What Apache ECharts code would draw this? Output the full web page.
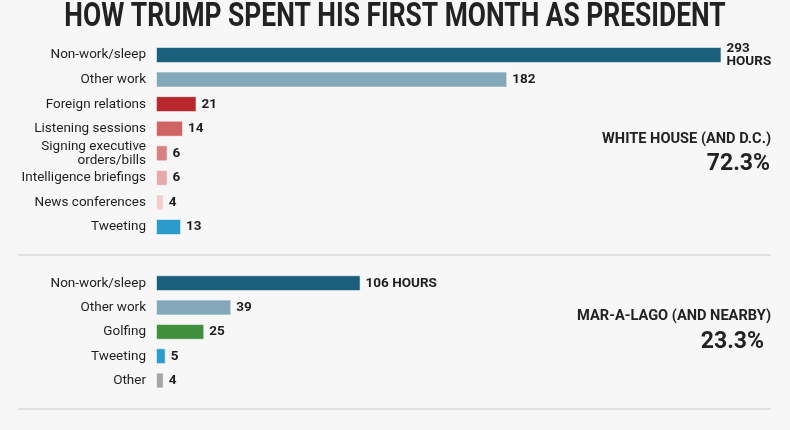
<!DOCTYPE html>
<html>
<head>
<meta charset="utf-8">
<script src="https://cdn.jsdelivr.net/npm/echarts@6/dist/echarts.min.js"></script>
<style>
html,body{margin:0;padding:0;background:#f7f7f7;}
#chart{width:790px;height:430px;}
</style>
</head>
<body>
<div id="chart"></div>
<script>
const titleText = 'HOW TRUMP SPENT HIS FIRST MONTH AS PRESIDENT';

const whCategories = ['Non-work/sleep','Other work','Foreign relations','Listening sessions','Signing executive\norders/bills','Intelligence briefings','News conferences','Tweeting'];
const whValues = [293, 182, 21, 14, 6, 6, 4, 13];
const whColors = ['#1a5f7b','#82a8b9','#b9282c','#d06364','#d98081','#e6aaaa','#f2cdce','#2a9bca'];
const whLabel = 'WHITE HOUSE (AND D.C.)';
const whShare = '72.3%';

const mlCategories = ['Non-work/sleep','Other work','Golfing','Tweeting','Other'];
const mlValues = [106, 39, 25, 5, 4];
const mlColors = ['#1a5f7b','#82a8b9','#3f8f3c','#2a9bca','#a6a6a6'];
const mlLabel = 'MAR-A-LAGO (AND NEARBY)';
const mlShare = '23.3%';

const FONT = 'Roboto, "Noto Sans", sans-serif';

function barData(vals, cols) {
  return vals.map((v, i) => ({ value: v, itemStyle: { color: cols[i] } }));
}

const chart = echarts.init(document.getElementById('chart'));

const catAxis = (gi, cats) => ({
  type: 'category', gridIndex: gi, data: cats, inverse: true,
  axisLine: { show: false }, axisTick: { show: false },
  axisLabel: { color: '#1e1e1e', fontFamily: FONT, fontSize: 13.5, margin: 10, lineHeight: 14 }
});
const valAxis = (gi) => ({
  type: 'value', gridIndex: gi, min: 0, max: 300, show: false
});

const barSeries = (gi, vals, cols, firstLabel) => ({
  type: 'bar', xAxisIndex: gi, yAxisIndex: gi,
  data: barData(vals, cols),
  barWidth: '65%',
  itemStyle: { borderColor: 'rgba(255,255,255,0.55)', borderWidth: 1 },
  label: {
    show: true, position: 'right', distance: 5,
    color: '#1e1e1e', fontFamily: FONT, fontSize: 13.5, fontWeight: 'bold', lineHeight: 13,
    formatter: p => p.dataIndex === 0 ? firstLabel.replace('{v}', p.value) : String(p.value)
  },
  animation: false
});

chart.setOption({
  backgroundColor: '#f7f7f7',
  animation: false,
  grid: [
    { left: 156, width: 579, top: 42.7, height: 196.6 },
    { left: 156, width: 579, top: 271, height: 121.7 }
  ],
  xAxis: [valAxis(0), valAxis(1)],
  yAxis: [catAxis(0, whCategories), catAxis(1, mlCategories)],
  series: [
    barSeries(0, whValues, whColors, '{v}\nHOURS'),
    barSeries(1, mlValues, mlColors, '{v} HOURS')
  ],
  graphic: [
    { type: 'text', x: 395, y: 17, scaleX: 0.776, silent: true,
      style: { text: titleText, fill: '#222', font: 'bold 34px ' + FONT, textAlign: 'center', textVerticalAlign: 'middle' } },
    { type: 'line', silent: true, shape: { x1: 18, y1: 255, x2: 771, y2: 255 }, style: { stroke: '#dadada', lineWidth: 1.5 } },
    { type: 'line', silent: true, shape: { x1: 18, y1: 409, x2: 771, y2: 409 }, style: { stroke: '#dadada', lineWidth: 1.5 } },
    { type: 'text', x: 771, y: 139, silent: true,
      style: { text: whLabel, fill: '#222', font: 'bold 14.6px ' + FONT, textAlign: 'right', textVerticalAlign: 'middle' } },
    { type: 'text', x: 770, y: 164, silent: true,
      style: { text: whShare, fill: '#222', font: 'bold 23px ' + FONT, textAlign: 'right', textVerticalAlign: 'middle' } },
    { type: 'text', x: 771, y: 316, silent: true,
      style: { text: mlLabel, fill: '#222', font: 'bold 14.6px ' + FONT, textAlign: 'right', textVerticalAlign: 'middle' } },
    { type: 'text', x: 764, y: 342, silent: true,
      style: { text: mlShare, fill: '#222', font: 'bold 23px ' + FONT, textAlign: 'right', textVerticalAlign: 'middle' } }
  ]
});
</script>
</body>
</html>
